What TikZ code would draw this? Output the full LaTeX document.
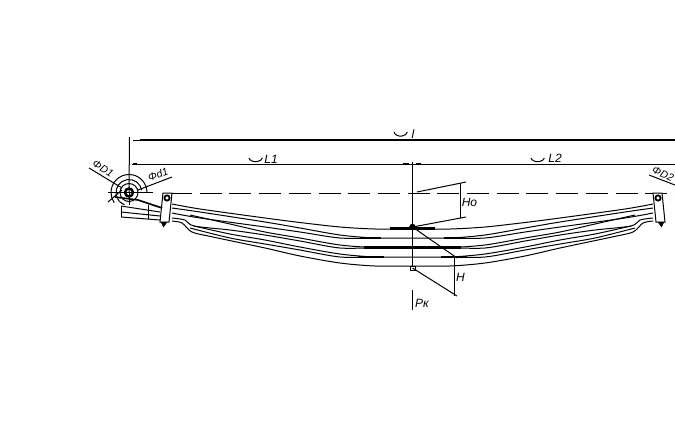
\documentclass[tikz,border=0pt]{standalone}
\usepackage{fontspec}
\setmainfont{Liberation Sans}
\tikzset{
  dimtext/.style={font=\itshape\fontsize{12}{12}\selectfont, inner sep=0pt},
  smalltext/.style={font=\itshape\fontsize{10.5}{11}\selectfont, inner sep=0pt},
  dimline/.style={line width=1pt},
  tick/.style={line width=2.2pt},
  leaf/.style={line width=1pt, smooth},
  smile/.style={line width=1pt},
}
% one half of the spring, from the clamp to the middle
\newcommand{\leafhalf}{
  \draw[leaf] plot coordinates {(172,204) (200,209) (265,218) (300,222.5) (340,227) (375,229) (412.5,229)};
  \draw[leaf] plot coordinates {(172,208) (200,212) (265,222) (300,228) (340,235) (375,238) (412.5,238)};
  \draw[leaf] plot coordinates {(172,213) (200,218) (265,227) (300,232) (340,238) (375,238)};
  \draw[leaf] plot coordinates {(190,215) (230,224) (265,232) (300,238) (340,245) (375,247.5) (412.5,247.5)};
  \draw[leaf] plot coordinates {(172,218) (185,220) (194,226) (230,230) (265,235) (300,241) (340,248) (375,247.5)};
  \draw[leaf] plot coordinates {(194,226) (230,234) (265,240) (300,247) (340,254) (375,257) (412.5,257)};
  \draw[leaf] plot coordinates {(190,228) (230,238) (265,244) (300,250) (340,257) (375,257)};
  \draw[leaf] plot coordinates {(172,221) (182,223) (192,232) (213,237) (265,248) (300,256) (340,263) (375,266) (412.5,266)};
  % thick parts of the leaves
  \draw[tick] (390,228.5) -- (412.5,228.5);
  \draw[tick] (360,238) -- (381,238);
  \draw[tick] (364,247.5) -- (412.5,247.5);
  \draw[tick] (358,257) -- (384,257);
  % clamp
  \draw[dimline, fill=white] (163,193) -- (172,193) -- (169,222) -- (160,222) -- cycle;
  \draw[fill=black] (161,222) -- (167,222) -- (163.5,227) -- cycle;
  \draw[line width=1.8pt, fill=white] (167,198) circle (2.6);
}
\begin{document}
\begin{tikzpicture}[x=1pt, y=-1pt]
  \useasboundingbox (0,0) rectangle (675,440);

  \coordinate (eye) at (129,192.5);
  \coordinate (mid) at (412.5,227);
  \coordinate (pin) at (412.5,268);
  \coordinate (topleft) at (129.5,137);
  \coordinate (topright) at (675,140);
  \coordinate (dimleft) at (132,164);
  \coordinate (dimmid) at (412.5,164);
  \coordinate (dimright) at (675,164);

  % dimension lines
  \draw[line width=2.2pt] (140,140) -- (topright);
  \draw[dimline] (133,140) -- (140,140);
  \draw[dimline] (topleft) -- (eye);
  \draw[dimline] (dimleft) -- (dimright);
  \draw[tick] (133,164) -- (137,164);
  \draw[tick] (403,164) -- (409,164);
  \draw[tick] (416,164) -- (421,164);
  \draw[dimline, dash pattern=on 22pt off 7.7pt] (170,193) -- (675,193);
  \draw[dimline] (412.5,162) -- (mid) -- (pin);

  \draw[smile] (394,132) arc[start angle=170, end angle=10, x radius=6.8, y radius=5];
  \node[dimtext] (ltext) at (413,134) {l};
  \draw[smile] (249,158) arc[start angle=170, end angle=10, x radius=6.8, y radius=4.5];
  \node[dimtext] (lone) at (271,159.5) {L1};
  \draw[smile] (531,158) arc[start angle=170, end angle=10, x radius=6.8, y radius=4.5];
  \node[dimtext] (ltwo) at (555,158.5) {L2};

  % spring, both halves
  \leafhalf
  \begin{scope}[shift={(825,0)}, xscale=-1]
    \leafhalf
  \end{scope}
  \draw[fill=black] (mid) circle (3);
  \draw[dimline, fill=white] (410,266.5) rectangle (415,270);

  % eye on the left
  \draw[dimline] ([shift={(0:18)}]eye) arc[start angle=0, end angle=-215, radius=18];
  \draw[dimline] ([shift={(-10:13)}]eye) arc[start angle=-10, end angle=-250, radius=13];
  \draw[dimline] (eye) circle (9);
  \draw[line width=2.4pt] (eye) circle (4);
  \draw[dimline] (108,192.5) -- (153,192.5);
  \draw[dimline] (129.5,192.5) -- (129.5,205);
  \draw[line width=1.6pt] (115,197) -- (138,200) -- (162,208);
  \draw[dimline] (121,206) -- (160,212);
  \draw[dimline] (121,212) -- (160,216);
  \draw[dimline] (121,217) -- (160,220);
  \draw[dimline] (121,206) -- (121,217);
  \draw[dimline] (148,205) -- (148,219);

  % leaders and their labels
  \draw[dimline] (89,168) -- (122,188);
  \draw[dimline] (108,202) -- (122,190);
  \node[smalltext, rotate=-32] (dbig) at (103,168.5) {ΦD1};
  \draw[dimline] (138,190) -- (172,177);
  \node[smalltext, rotate=20] (dsmall) at (158,174) {Φd1};
  \draw[dimline] (649,175) -- (675,185);
  \node[smalltext, rotate=-24] (dright) at (663,174) {ΦD2};

  \coordinate (hoa) at (466,182);
  \coordinate (hob) at (466,217);
  \draw[dimline] (417,192) -- (hoa);
  \draw[dimline] (mid) -- (hob);
  \draw[dimline] (460,183) -- (460,218);
  \node[dimtext] (hotext) at (469.5,202) {Hо};

  \coordinate (ha) at (457,258);
  \coordinate (hb) at (457,296);
  \draw[dimline] (mid) -- (ha);
  \draw[dimline] (pin) -- (hb);
  \draw[dimline] (454.5,257) -- (454.5,296);
  \node[dimtext] (htext) at (460.5,277.5) {H};

  \draw[dimline] (412.5,290) -- (412.5,310);
  \node[dimtext] (pktext) at (422,303) {Pк};
\end{tikzpicture}
\end{document}
